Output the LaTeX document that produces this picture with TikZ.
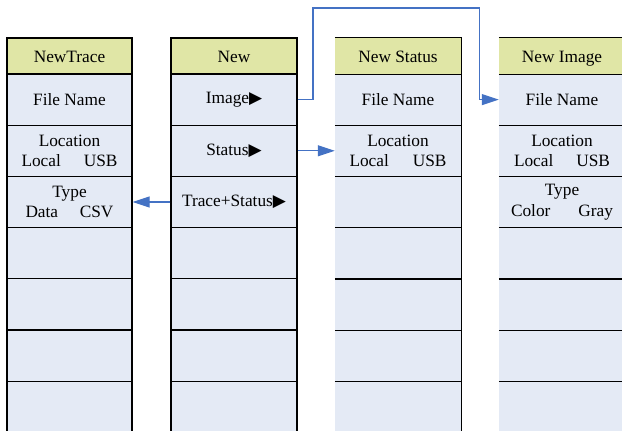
\documentclass[tikz,border=0pt]{standalone}
\usepackage{fontspec}
\setmainfont{Liberation Serif}
\newfontfamily\symfont{DejaVu Sans}
\usetikzlibrary{arrows.meta}
\definecolor{headfill}{HTML}{E0E6A6}
\definecolor{cellfill}{HTML}{E4EAF5}
\definecolor{linkblue}{HTML}{4472C4}
\newcommand{\tri}{{\symfont\fontsize{17}{17}\selectfont ▶}}

\begin{document}
\begin{tikzpicture}[x=1pt, y=-1pt,
		every node/.style={font=\fontsize{17.3}{20.5}\selectfont},
		head/.style={rectangle, fill=headfill, minimum width=126pt, minimum height=36pt, inner sep=0pt, text height=12pt, text depth=0pt},
		cell/.style={rectangle, fill=cellfill, minimum width=126pt, minimum height=51.2pt, inner sep=0pt, align=center},
		boxed/.style={draw, line width=1.2pt},
		link/.style={draw=linkblue, line width=1.2pt, -{Triangle[length=17pt, width=11pt]}}]
		\useasboundingbox (0,0) rectangle (622,431);

		% NewTrace menu
		\node[head, boxed, minimum width=125pt] (t0) at (69.5,56) {NewTrace};
		\node[cell, boxed, minimum width=125pt] (t1) at (69.5,99.6) {File Name};
		\node[cell, boxed, minimum width=125pt] (t2) at (69.5,150.8) {Location\\\makebox[96pt]{Local\hfill USB}};
		\node[cell, boxed, minimum width=125pt] (t3) at (69.5,202) {Type\\\makebox[88pt]{Data\hfill CSV}};
		\node[cell, boxed, minimum width=125pt] (t4) at (69.5,253.2) {};
		\node[cell, boxed, minimum width=125pt] (t5) at (69.5,304.4) {};
		\node[cell, boxed, minimum width=125pt] (t6) at (69.5,355.6) {};
		\node[cell, boxed, minimum width=125pt] (t7) at (69.5,406.8) {};

		% New menu
		\node[head, boxed] (n0) at (234,56) {New};
		\node[cell, boxed] (n1) at (234,99.6) {Image\tri};
		\node[cell, boxed] (n2) at (234,150.8) {Status\tri};
		\node[cell, boxed] (n3) at (234,202) {Trace+Status\tri};
		\node[cell, boxed] (n4) at (234,253.2) {};
		\node[cell, boxed] (n5) at (234,304.4) {};
		\node[cell, boxed] (n6) at (234,355.6) {};
		\node[cell, boxed] (n7) at (234,406.8) {};

		% New Status menu
		\node[head] (s0) at (398,56) {New Status};
		\node[cell] (s1) at (398,99.6) {File Name};
		\node[cell] (s2) at (398,150.8) {Location\\\makebox[97pt]{Local\hfill USB}};
		\node[cell] (s3) at (398,202) {};
		\node[cell] (s4) at (398,253.2) {};
		\node[cell] (s5) at (398,304.4) {};
		\node[cell] (s6) at (398,355.6) {};
		\node[cell] (s7) at (398,406.8) {};

		% New Image menu
		\node[head] (i0) at (562,56) {New Image};
		\node[cell] (i1) at (562,99.6) {File Name};
		\node[cell] (i2) at (562,150.8) {Location\\\makebox[96pt]{Local\hfill USB}};
		\node[cell] (i3) at (562,202) {Type\\\makebox[102pt]{Color\hfill Gray}};
		\node[cell] (i4) at (562,253.2) {};
		\node[cell] (i5) at (562,304.4) {};
		\node[cell] (i6) at (562,355.6) {};
		\node[cell] (i7) at (562,406.8) {};

		\draw[line width=1.2pt] (s0.north west) -- (s0.north east) -- (s7.south east)
			(s0.south west) -- (s0.south east) (s1.south west) -- (s1.south east)
			(s2.south west) -- (s2.south east) (s3.south west) -- (s3.south east)
			(s4.south west) -- (s4.south east) (s5.south west) -- (s5.south east)
			(s6.south west) -- (s6.south east);
		\draw[line width=1.2pt] (i0.north west) -- (i0.north east) -- (i7.south east)
			(i0.south west) -- (i0.south east) (i1.south west) -- (i1.south east)
			(i2.south west) -- (i2.south east) (i3.south west) -- (i3.south east)
			(i4.south west) -- (i4.south east) (i5.south west) -- (i5.south east)
			(i6.south west) -- (i6.south east);

		\coordinate (up1) at (313,8);
		\coordinate (up2) at (479.5,8);
		\draw[link] (n1.east) -| (up1) -- (up2) |- (i1.west);
		\draw[link] (n2.east) -- (s2.west);
		\draw[link] (n3.west) -- (t3.east);
	\end{tikzpicture}
\end{document}
